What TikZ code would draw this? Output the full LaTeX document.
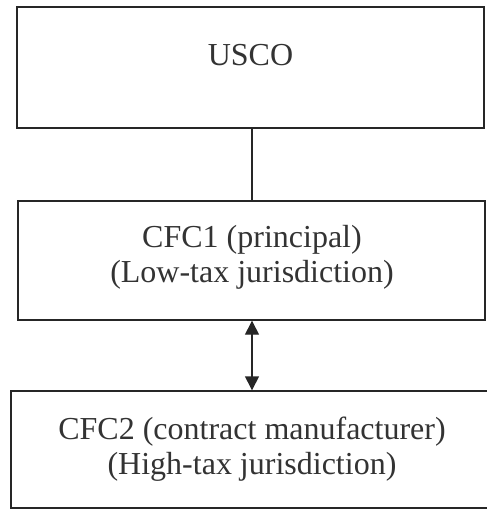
\documentclass[tikz,border=0pt]{standalone}
\usepackage{fontspec}
\setmainfont{Liberation Serif}
\usetikzlibrary{arrows.meta,positioning}
\tikzset{
  entbox/.style={draw=black!85, line width=1.4pt, fill=white, inner sep=0pt},
  enttext/.style={align=center, text=black!80, inner sep=0pt,
                  font=\fontsize{32}{35}\selectfont},
}

\begin{document}
\begin{tikzpicture}[x=1pt, y=1pt, >={Triangle[length=14pt,width=14pt]}]
    \useasboundingbox (0,0) rectangle (486,-510);
    \node[entbox, minimum width=467pt, minimum height=121pt] (usco) at (250.5,-67.5) {};
    \node[entbox, minimum width=467pt, minimum height=119pt] (cfca) at (251.5,-260.5) {};
    \node[entbox, minimum width=482pt, minimum height=117pt] (cfcb) at (252,-449.5) {};
    \node[enttext] (uscot) at (250.5,-55) {USCO};
    \node[enttext] (cfcat) at (252,-257) {CFC1 (principal)\\(Low-tax jurisdiction)};
    \node[enttext] (cfcbt) at (252,-449) {CFC2 (contract manufacturer)\\(High-tax jurisdiction)};
    \draw[black!85, line width=1.2pt] (usco.south -| 252,0) -- (cfca.north -| 252,0);
    \draw[<->, black!85, line width=1.4pt] (cfca.south -| 252,0) -- (cfcb.north -| 252,0);
\end{tikzpicture}
\end{document}
